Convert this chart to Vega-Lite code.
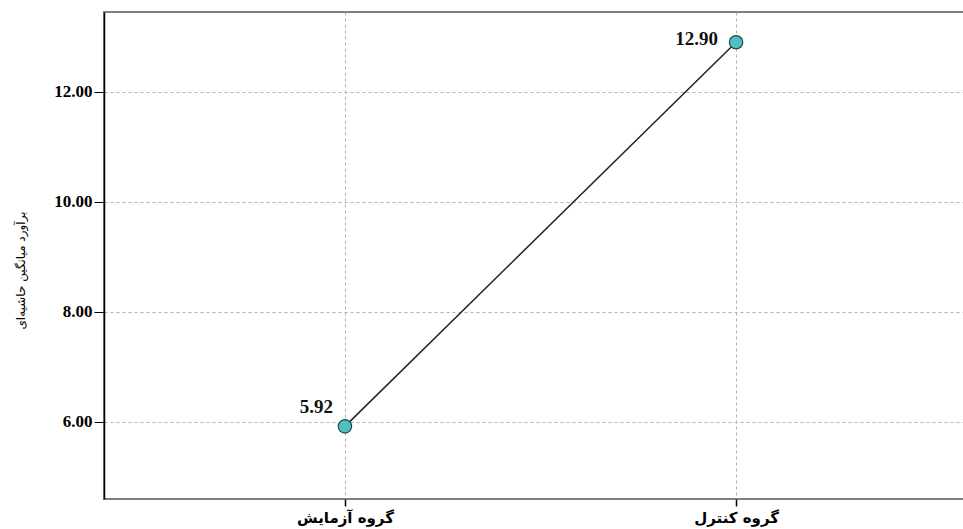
{
  "$schema": "https://vega.github.io/schema/vega-lite/v6.json",
  "width": 873,
  "height": 487,
  "autosize": {"type": "none"},
  "padding": {"left": 104, "top": 12, "right": 0, "bottom": 30},
  "background": "white",
  "config": {
    "view": {"stroke": "#808080", "strokeWidth": 2}
  },
  "data": {
    "values": [
      {"group": "گروه آزمایش", "mean": 5.92},
      {"group": "گروه کنترل", "mean": 12.90}
    ]
  },
  "encoding": {
    "x": {
      "field": "group",
      "type": "nominal",
      "sort": ["گروه آزمایش", "گروه کنترل"],
      "scale": {"type": "point", "padding": 0.616},
      "axis": {
        "title": null,
        "labelAngle": 0,
        "labelFont": "DejaVu Sans",
        "labelFontWeight": "bold",
        "labelFontSize": 15,
        "labelColor": "#000",
        "labelPadding": 4,
        "tickSize": 7,
        "tickColor": "#000",
        "tickWidth": 1.5,
        "domain": false,
        "grid": true,
        "gridDash": [3, 3],
        "gridColor": "#b0b0b0",
        "gridWidth": 1
      }
    },
    "y": {
      "field": "mean",
      "type": "quantitative",
      "scale": {"domain": [4.6, 13.45], "nice": false, "zero": false},
      "axis": {
        "values": [6, 8, 10, 12],
        "format": ".2f",
        "title": "برآورد میانگین حاشیه‌ای",
        "titleFont": "DejaVu Sans",
        "titleFontSize": 12,
        "titleFontWeight": "normal",
        "titleColor": "#000",
        "titleX": -84,
        "titleY": 258,
        "titleAngle": -90,
        "titleAlign": "center",
        "titleBaseline": "middle",
        "labelFont": "Liberation Serif",
        "labelFontWeight": "bold",
        "labelFontSize": 17,
        "labelColor": "#000",
        "labelPadding": 2,
        "tickSize": 10,
        "tickColor": "#000",
        "domainColor": "#000",
        "domainWidth": 1.5,
        "grid": true,
        "gridDash": [3, 3],
        "gridColor": "#b0b0b0",
        "gridWidth": 1
      }
    }
  },
  "layer": [
    {
      "mark": {"type": "line", "color": "#222", "strokeWidth": 1.5}
    },
    {
      "mark": {"type": "point", "filled": true, "fill": "#4fbfbf", "stroke": "#1a4a4a", "strokeWidth": 1.2, "size": 180, "opacity": 1}
    },
    {
      "transform": [{"filter": "datum.mean < 8"}],
      "mark": {"type": "text", "font": "Liberation Serif", "fontWeight": "bold", "fontSize": 19, "align": "right", "baseline": "alphabetic", "dx": -12, "dy": -13, "color": "#111"},
      "encoding": {"text": {"field": "mean", "type": "quantitative", "format": ".2f"}}
    },
    {
      "transform": [{"filter": "datum.mean > 8"}],
      "mark": {"type": "text", "font": "Liberation Serif", "fontWeight": "bold", "fontSize": 19, "align": "right", "baseline": "middle", "dx": -18, "dy": -3, "color": "#111"},
      "encoding": {"text": {"field": "mean", "type": "quantitative", "format": ".2f"}}
    }
  ]
}
